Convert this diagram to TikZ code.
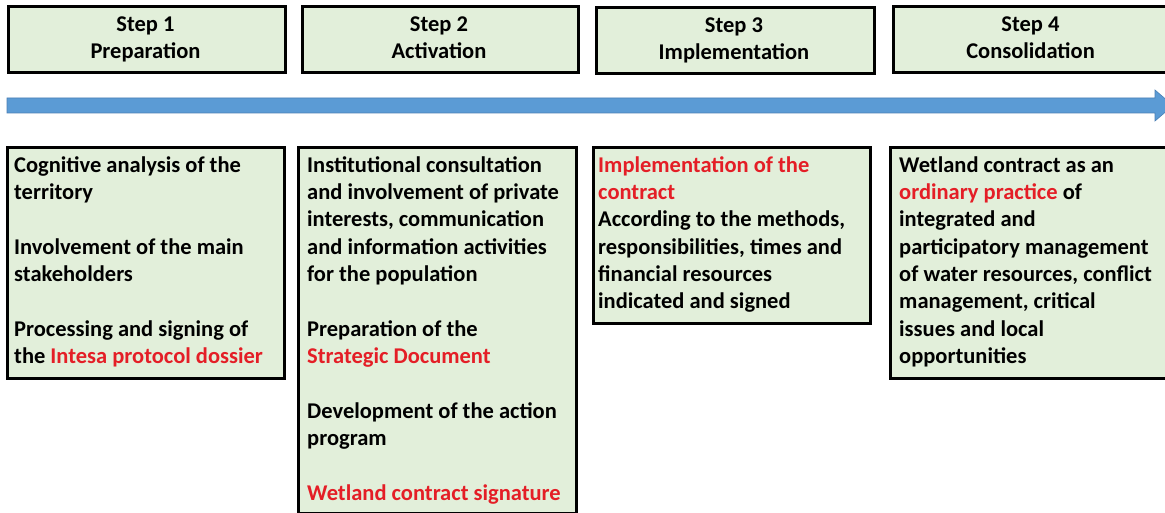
\documentclass[tikz,border=0pt]{standalone}
\usepackage{fontspec}
\setmainfont{Carlito}
\definecolor{boxfill}{HTML}{E2EFDA}
\definecolor{hlred}{HTML}{E41E26}
\definecolor{arrowblue}{HTML}{5B9BD5}
\definecolor{arrowline}{HTML}{4A7FB5}
\newcommand{\hl}[1]{{\color{hlred}#1}}
\begin{document}
\begin{tikzpicture}[x=1pt,y=-1pt,
  panel/.style={draw=black, line width=3pt, fill=boxfill, anchor=north west, inner sep=0pt},
  bodytxt/.style={anchor=north west, inner sep=0pt, align=left, font=\fontsize{22.5}{27.33}\selectfont\bfseries},
  headtxt/.style={anchor=north, inner sep=0pt, align=center, font=\fontsize{22.5}{27}\selectfont\bfseries}
]
\useasboundingbox (0,0) rectangle (1165,513);
\fill[white] (0,0) rectangle (1165,513);

% header boxes
\node[panel, minimum width=277pt, minimum height=66pt] (h1) at (7,5) {};
\node[panel, minimum width=276pt, minimum height=66pt] (h2) at (301,5) {};
\node[panel, minimum width=278pt, minimum height=66pt] (h3) at (595,6) {};
\node[panel, minimum width=285pt, minimum height=66pt] (h4) at (892,5) {};

\node[headtxt] (h1t) at (145.5,12.9) {\strut Step 1\\ Preparation};
\node[headtxt] (h2t) at (439,12.9) {\strut Step 2\\ Activation};
\node[headtxt] (h3t) at (734,13.9) {\strut Step 3\\ Implementation};
\node[headtxt] (h4t) at (1030.5,12.9) {\strut Step 4\\ Consolidation};

% timeline arrow
\coordinate (arrowstart) at (7,105.5);
\coordinate (arrowend) at (1173,105.5);
\filldraw[fill=arrowblue, draw=arrowline, line width=0.6pt]
  (arrowstart) ++(0,-7.5) -- (1155,98) -- (1155,90) -- (arrowend)
  -- (1155,121) -- (1155,113) -- (7,113) -- cycle;

% body boxes
\node[panel, minimum width=277pt, minimum height=231pt] (b1) at (6,146) {};
\node[panel, minimum width=278pt, minimum height=366pt] (b2) at (297,146) {};
\node[panel, minimum width=277pt, minimum height=176pt] (b3) at (592,146) {};
\node[panel, minimum width=285pt, minimum height=231pt] (b4) at (889,146) {};

\node[bodytxt] (b1t) at (14,152.87) {\strut Cognitive analysis of the\\ territory\\[27.33pt]
  Involvement of the main\\ stakeholders\\[27.33pt]
  Processing and signing of\\ the \hl{Intesa protocol dossier}};

\node[bodytxt] (b2t) at (307,152.87) {\strut Institutional consultation\\ and involvement of private\\
  interests, communication\\ and information activities\\ for the population\\[27.33pt]
  Preparation of the\\ \hl{Strategic Document}\\[27.33pt]
  Development of the action\\ program\\[27.33pt]
  \hl{Wetland contract signature}};

\node[bodytxt] (b3t) at (598,152.87) {\strut \hl{Implementation of the}\\ \hl{contract}\\
  According to the methods,\\ responsibilities, times and\\ financial resources\\ indicated and signed};

\node[bodytxt] (b4t) at (899,152.87) {\strut Wetland contract as an\\ \hl{ordinary practice} of\\
  integrated and\\ participatory management\\ of water resources, conflict\\
  management, critical\\ issues and local\\ opportunities};
\end{tikzpicture}
\end{document}
